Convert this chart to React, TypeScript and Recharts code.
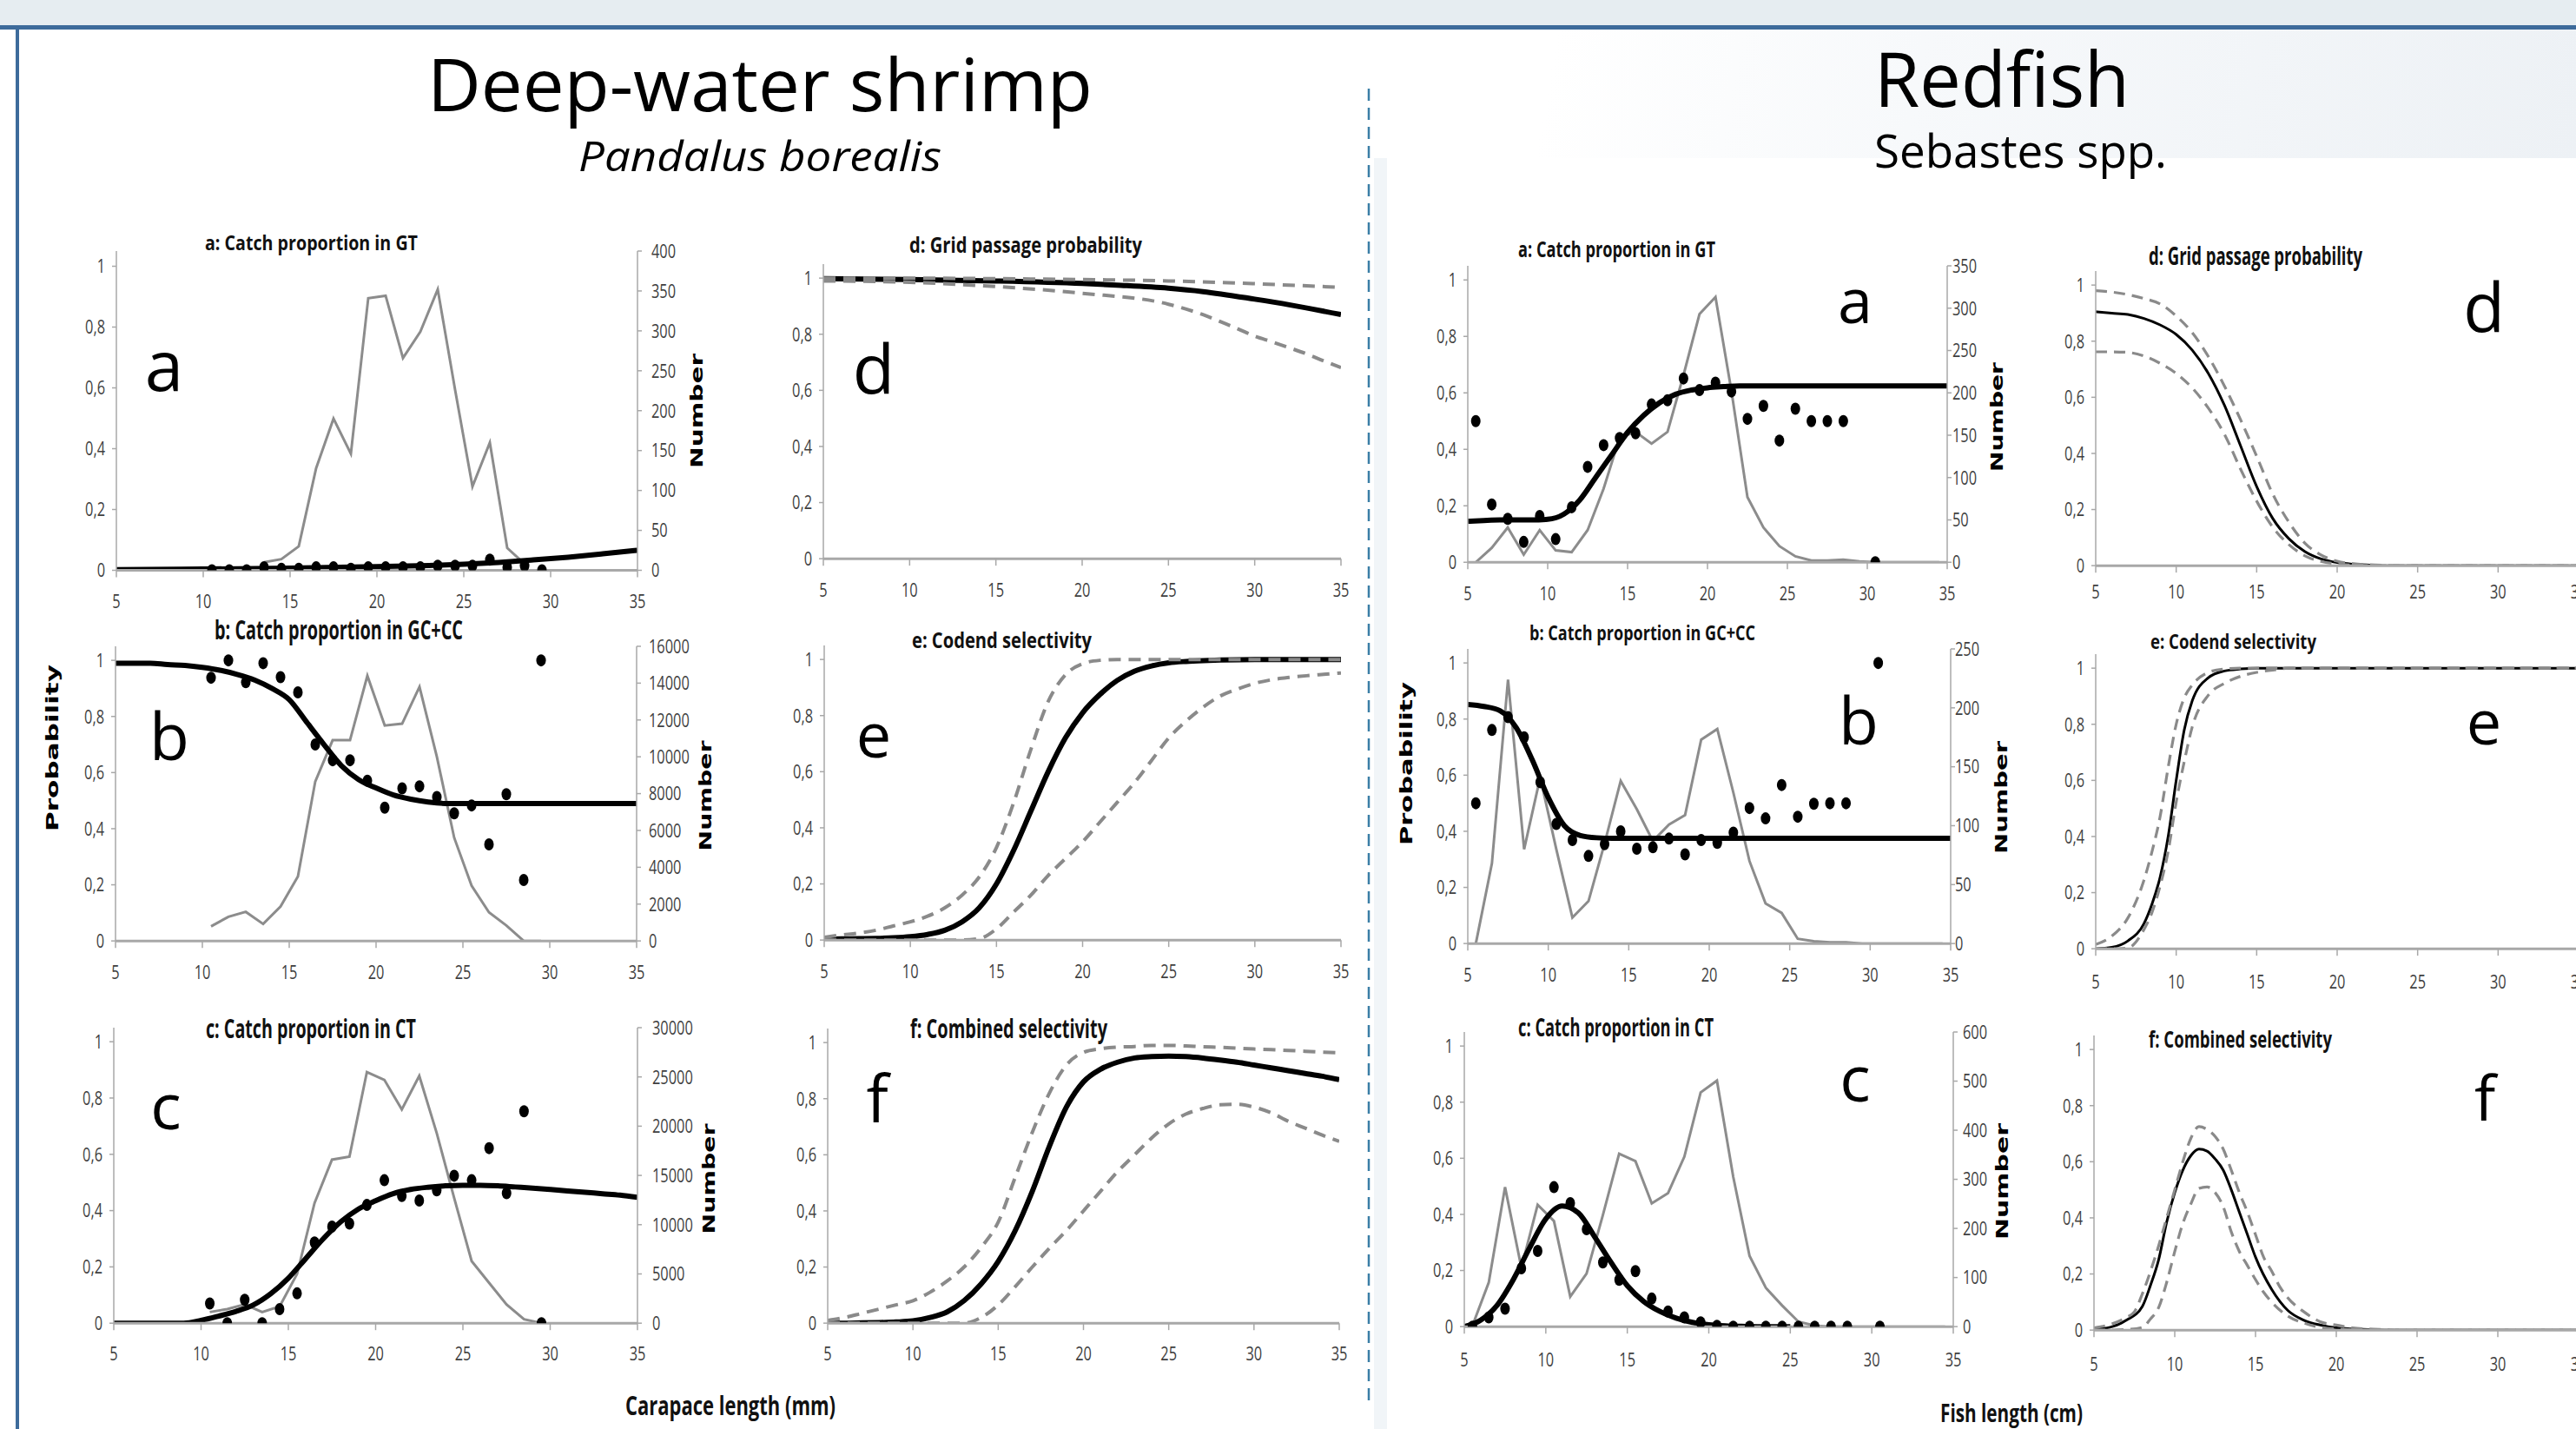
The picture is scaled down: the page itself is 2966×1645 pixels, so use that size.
import React from 'react';
import { ComposedChart, Line, XAxis, YAxis } from 'recharts';

type Pt = [number, number];

// shared axis ticks
const LENGTH_TICKS = [5, 10, 15, 20, 25, 30, 35];
const PROB_TICKS = [0, 0.2, 0.4, 0.6, 0.8, 1];

// ---------- Deep-water shrimp ----------
// a: catch proportion in GT
const SA_COUNT: Pt[] = [[13.5, 10], [14.5, 14], [15.5, 30], [16.5, 128], [17.5, 190], [18.5, 146], [19.5, 341], [20.5, 344], [21.5, 266], [22.5, 299], [23.5, 352], [24.5, 226], [25.5, 105], [26.5, 160], [27.5, 28], [28.5, 8]];
const SA_OBS: Pt[] = [[10.5, 0], [11.5, 0], [12.5, 0], [13.5, 0.01], [14.5, 0.005], [15.5, 0.005], [16.5, 0.01], [17.5, 0.01], [18.5, 0.005], [19.5, 0.01], [20.5, 0.01], [21.5, 0.01], [22.5, 0.01], [23.5, 0.015], [24.5, 0.015], [25.5, 0.015], [26.5, 0.035], [27.5, 0.01], [28.5, 0.015], [29.5, 0]];
const SA_FIT: Pt[] = [[5, 0.002], [10, 0.004], [15, 0.007], [20, 0.012], [23, 0.016], [25, 0.02], [27, 0.026], [29, 0.034], [31, 0.043], [33, 0.054], [35, 0.066]];
const SA_NUM_TICKS = [0, 50, 100, 150, 200, 250, 300, 350, 400];

// b: catch proportion in GC+CC
const SB_COUNT: Pt[] = [[10.5, 790], [11.5, 1310], [12.5, 1580], [13.5, 920], [14.5, 1870], [15.5, 3500], [16.5, 8660], [17.5, 10900], [18.5, 10900], [19.5, 14400], [20.5, 11700], [21.5, 11800], [22.5, 13800], [23.5, 10000], [24.5, 5600], [25.5, 3000], [26.5, 1550], [27.5, 840], [28.5, 0], [29.5, 0]];
const SB_OBS: Pt[] = [[10.5, 0.938], [11.5, 1.0], [12.5, 0.922], [13.5, 0.99], [14.5, 0.94], [15.5, 0.886], [16.5, 0.7], [17.5, 0.644], [18.5, 0.644], [19.5, 0.571], [20.5, 0.475], [21.5, 0.544], [22.5, 0.551], [23.5, 0.513], [24.5, 0.455], [25.5, 0.483], [26.5, 0.344], [27.5, 0.523], [28.5, 0.217], [29.5, 1.0]];
const SB_FIT: Pt[] = [[5, 0.99], [6, 0.99], [7, 0.99], [8, 0.985], [9, 0.982], [10, 0.975], [11, 0.965], [12, 0.95], [13, 0.93], [14, 0.9], [15, 0.86], [16, 0.78], [17, 0.7], [18, 0.625], [19, 0.575], [20, 0.545], [21, 0.52], [22, 0.505], [23, 0.495], [24, 0.49], [35, 0.49]];
const SB_NUM_TICKS = [0, 2000, 4000, 6000, 8000, 10000, 12000, 14000, 16000];

// c: catch proportion in CT
const SC_COUNT: Pt[] = [[10.5, 1130], [11.5, 1430], [12.5, 1900], [13.5, 1130], [14.5, 1700], [15.5, 5000], [16.5, 12200], [17.5, 16600], [18.5, 16900], [19.5, 25500], [20.5, 24700], [21.5, 21700], [22.5, 25100], [23.5, 19300], [24.5, 12700], [25.5, 6300], [26.5, 4100], [27.5, 1900], [28.5, 400], [29.5, 0]];
const SC_OBS: Pt[] = [[10.5, 0.07], [11.5, 0], [12.5, 0.083], [13.5, 0], [14.5, 0.05], [15.5, 0.106], [16.5, 0.287], [17.5, 0.343], [18.5, 0.354], [19.5, 0.42], [20.5, 0.508], [21.5, 0.452], [22.5, 0.436], [23.5, 0.472], [24.5, 0.524], [25.5, 0.508], [26.5, 0.622], [27.5, 0.462], [28.5, 0.753], [29.5, 0]];
const SC_FIT: Pt[] = [[5, 0], [9, 0], [10, 0.01], [11, 0.025], [12, 0.042], [13, 0.065], [14, 0.105], [15, 0.16], [16, 0.23], [17, 0.3], [18, 0.36], [19, 0.405], [20, 0.435], [21, 0.46], [22, 0.475], [23, 0.483], [24, 0.488], [25, 0.49], [26, 0.49], [27, 0.488], [28, 0.484], [29, 0.48], [30, 0.475], [31, 0.47], [32, 0.465], [33, 0.46], [34, 0.455], [35, 0.447]];
const SC_NUM_TICKS = [0, 5000, 10000, 15000, 20000, 25000, 30000];

// d: grid passage probability
const SD_FIT: Pt[] = [[5, 0.998], [10, 0.995], [15, 0.99], [20, 0.981], [22, 0.975], [25, 0.964], [27, 0.952], [30, 0.925], [32, 0.905], [35, 0.87]];
const SD_UP: Pt[] = [[5, 1.0], [10, 1.0], [15, 0.998], [20, 0.995], [25, 0.99], [30, 0.98], [35, 0.967]];
const SD_LO: Pt[] = [[5, 0.99], [10, 0.985], [15, 0.97], [20, 0.946], [25, 0.907], [26, 0.89], [27, 0.87], [28, 0.845], [29, 0.82], [30, 0.793], [31, 0.773], [32, 0.752], [33, 0.73], [34, 0.705], [35, 0.681]];

// e: codend selectivity
const SE_FIT: Pt[] = [[5, 0.003], [6, 0.004], [7, 0.005], [8, 0.006], [9, 0.008], [10, 0.012], [11, 0.02], [12, 0.035], [13, 0.065], [14, 0.115], [15, 0.2], [16, 0.32], [17, 0.46], [18, 0.6], [19, 0.72], [20, 0.81], [21, 0.875], [22, 0.925], [23, 0.958], [24, 0.977], [25, 0.988], [26, 0.993], [27, 0.996], [28, 0.998], [30, 1], [35, 1]];
const SE_UP: Pt[] = [[5, 0.01], [6, 0.018], [7, 0.025], [8, 0.035], [9, 0.05], [10, 0.065], [11, 0.085], [12, 0.115], [13, 0.16], [14, 0.225], [15, 0.33], [16, 0.49], [17, 0.68], [18, 0.85], [19, 0.945], [20, 0.985], [21, 0.997], [22, 1], [35, 1]];
const SE_LO: Pt[] = [[5, 0], [13, 0], [14, 0.005], [15, 0.04], [16, 0.1], [17, 0.16], [18, 0.23], [19, 0.29], [20, 0.35], [21, 0.42], [22, 0.49], [23, 0.56], [24, 0.64], [25, 0.72], [26, 0.78], [27, 0.83], [28, 0.87], [29, 0.895], [30, 0.915], [31, 0.928], [32, 0.936], [33, 0.942], [34, 0.947], [35, 0.952]];

// f: combined selectivity
const SF_FIT: Pt[] = [[5, 0], [6, 0], [7, 0.001], [8, 0.002], [9, 0.004], [10, 0.008], [11, 0.02], [12, 0.04], [13, 0.08], [14, 0.14], [15, 0.22], [16, 0.33], [17, 0.47], [18, 0.63], [19, 0.77], [20, 0.86], [21, 0.905], [22, 0.93], [23, 0.945], [24, 0.95], [25, 0.952], [26, 0.95], [27, 0.945], [28, 0.938], [29, 0.93], [30, 0.92], [31, 0.91], [32, 0.9], [33, 0.89], [34, 0.88], [35, 0.868]];
const SF_UP: Pt[] = [[5, 0.01], [6, 0.02], [7, 0.035], [8, 0.05], [9, 0.065], [10, 0.08], [11, 0.11], [12, 0.15], [13, 0.2], [14, 0.27], [15, 0.36], [16, 0.52], [17, 0.68], [18, 0.82], [19, 0.92], [20, 0.965], [21, 0.978], [22, 0.984], [23, 0.986], [24, 0.99], [25, 0.99], [26, 0.988], [27, 0.985], [28, 0.983], [29, 0.98], [30, 0.977], [31, 0.975], [32, 0.972], [33, 0.969], [34, 0.966], [35, 0.964]];
const SF_LO: Pt[] = [[5, 0], [13, 0], [14, 0.02], [15, 0.065], [16, 0.13], [17, 0.2], [18, 0.267], [19, 0.33], [20, 0.4], [21, 0.47], [22, 0.54], [23, 0.6], [24, 0.66], [25, 0.71], [26, 0.745], [27, 0.765], [28, 0.778], [29, 0.78], [30, 0.77], [31, 0.75], [32, 0.72], [33, 0.695], [34, 0.67], [35, 0.648]];

// ---------- Redfish ----------
const RA_COUNT: Pt[] = [[5.5, 0], [6.5, 17], [7.5, 41], [8.5, 9], [9.5, 38], [10.5, 14], [11.5, 12], [12.5, 38], [13.5, 87], [14.5, 147], [15.5, 154], [16.5, 140], [17.5, 154], [18.5, 221], [19.5, 293], [20.5, 313], [21.5, 202], [22.5, 77], [23.5, 41], [24.5, 19], [25.5, 7], [26.5, 2], [27.5, 2], [28.5, 3], [29.5, 1], [30.5, 0], [31.5, 0], [32.5, 0], [33.5, 0], [34.5, 0]];
const RA_OBS: Pt[] = [[5.5, 0.5], [6.5, 0.205], [7.5, 0.154], [8.5, 0.072], [9.5, 0.164], [10.5, 0.082], [11.5, 0.195], [12.5, 0.338], [13.5, 0.415], [14.5, 0.44], [15.5, 0.457], [16.5, 0.559], [17.5, 0.574], [18.5, 0.651], [19.5, 0.61], [20.5, 0.636], [21.5, 0.605], [22.5, 0.508], [23.5, 0.554], [24.5, 0.431], [25.5, 0.544], [26.5, 0.5], [27.5, 0.5], [28.5, 0.5], [30.5, 0]];
const RA_FIT: Pt[] = [[5, 0.145], [6, 0.148], [7, 0.15], [8, 0.15], [9, 0.15], [10, 0.152], [11, 0.17], [12, 0.22], [13, 0.3], [14, 0.38], [15, 0.46], [16, 0.52], [17, 0.565], [18, 0.595], [19, 0.61], [20, 0.618], [21, 0.622], [22, 0.625], [35, 0.625]];
const RA_NUM_TICKS = [0, 50, 100, 150, 200, 250, 300, 350];

const RB_COUNT: Pt[] = [[5.5, 0], [6.5, 68], [7.5, 224], [8.5, 80], [9.5, 141], [10.5, 80], [11.5, 22], [12.5, 36], [13.5, 85], [14.5, 138], [15.5, 114], [16.5, 87], [17.5, 101], [18.5, 109], [19.5, 173], [20.5, 182], [21.5, 128], [22.5, 70], [23.5, 34], [24.5, 26], [25.5, 4], [26.5, 2], [27.5, 1], [28.5, 1], [29.5, 0], [30.5, 0], [31.5, 0], [32.5, 0], [33.5, 0], [34.5, 0]];
const RB_OBS: Pt[] = [[5.5, 0.5], [6.5, 0.761], [7.5, 0.807], [8.5, 0.735], [9.5, 0.575], [10.5, 0.426], [11.5, 0.369], [12.5, 0.312], [13.5, 0.354], [14.5, 0.4], [15.5, 0.338], [16.5, 0.343], [17.5, 0.374], [18.5, 0.318], [19.5, 0.369], [20.5, 0.359], [21.5, 0.395], [22.5, 0.483], [23.5, 0.446], [24.5, 0.565], [25.5, 0.452], [26.5, 0.498], [27.5, 0.5], [28.5, 0.5], [30.5, 1.0]];
const RB_FIT: Pt[] = [[5, 0.852], [6, 0.845], [7, 0.83], [8, 0.77], [9, 0.655], [10, 0.52], [11, 0.42], [12, 0.385], [13, 0.377], [14, 0.375], [35, 0.375]];
const RB_NUM_TICKS = [0, 50, 100, 150, 200, 250];

const RC_COUNT: Pt[] = [[5.5, 2], [6.5, 90], [7.5, 284], [8.5, 120], [9.5, 248], [10.5, 215], [11.5, 61], [12.5, 108], [13.5, 227], [14.5, 352], [15.5, 337], [16.5, 251], [17.5, 272], [18.5, 346], [19.5, 477], [20.5, 501], [21.5, 305], [22.5, 144], [23.5, 79], [24.5, 43], [25.5, 10], [26.5, 2], [27.5, 0], [28.5, 0], [29.5, 0], [30.5, 0], [31.5, 0], [32.5, 0], [33.5, 0], [34.5, 0]];
const RC_OBS: Pt[] = [[5.5, 0], [6.5, 0.033], [7.5, 0.064], [8.5, 0.208], [9.5, 0.27], [10.5, 0.497], [11.5, 0.44], [12.5, 0.347], [13.5, 0.229], [14.5, 0.167], [15.5, 0.198], [16.5, 0.1], [17.5, 0.054], [18.5, 0.033], [19.5, 0.015], [20.5, 0.003], [21.5, 0], [22.5, 0], [23.5, 0], [24.5, 0], [25.5, 0], [26.5, 0], [27.5, 0], [28.5, 0], [30.5, 0]];
const RC_FIT: Pt[] = [[5, 0], [6, 0.023], [7, 0.075], [8, 0.167], [9, 0.28], [10, 0.384], [11, 0.43], [12, 0.405], [13, 0.32], [14, 0.229], [15, 0.146], [16, 0.09], [17, 0.054], [18, 0.03], [19, 0.015], [20, 0.007], [21, 0.003], [22, 0.001], [23, 0], [25, 0]];
const RC_NUM_TICKS = [0, 100, 200, 300, 400, 500, 600];

const RD_FIT: Pt[] = [[5, 0.905], [6, 0.9], [7, 0.895], [8, 0.881], [9, 0.858], [10, 0.824], [11, 0.768], [12, 0.685], [13, 0.571], [14, 0.427], [15, 0.282], [16, 0.168], [17, 0.096], [18, 0.05], [19, 0.024], [20, 0.011], [21, 0.005], [22, 0.002], [23, 0], [35, 0]];
const RD_UP: Pt[] = [[5, 0.98], [6, 0.975], [7, 0.966], [8, 0.952], [9, 0.933], [10, 0.89], [11, 0.83], [12, 0.745], [13, 0.64], [14, 0.52], [15, 0.39], [16, 0.255], [17, 0.155], [18, 0.08], [19, 0.038], [20, 0.016], [21, 0.007], [22, 0.003], [23, 0.001], [24, 0], [35, 0]];
const RD_LO: Pt[] = [[5, 0.762], [6, 0.762], [7, 0.76], [8, 0.747], [9, 0.721], [10, 0.685], [11, 0.633], [12, 0.561], [13, 0.468], [14, 0.344], [15, 0.23], [16, 0.137], [17, 0.075], [18, 0.035], [19, 0.015], [20, 0.006], [21, 0.002], [22, 0], [35, 0]];

const RE_FIT: Pt[] = [[5, 0], [6, 0.005], [7, 0.028], [8, 0.09], [8.5, 0.16], [9, 0.255], [9.5, 0.4], [10, 0.6], [10.5, 0.78], [11, 0.884], [12, 0.966], [13, 0.99], [14, 0.997], [15, 1], [35, 1]];
const RE_UP: Pt[] = [[5, 0.015], [6, 0.045], [7, 0.11], [8, 0.245], [8.5, 0.347], [9, 0.471], [9.5, 0.646], [10, 0.8], [10.5, 0.894], [11, 0.94], [12, 0.985], [13, 0.997], [14, 1], [35, 1]];
const RE_LO: Pt[] = [[5, 0], [6, 0], [7, 0.003], [8, 0.069], [8.5, 0.13], [9, 0.224], [9.5, 0.347], [10, 0.523], [10.5, 0.667], [11, 0.791], [12, 0.904], [13, 0.946], [14, 0.971], [15, 0.985], [16, 0.993], [17, 1], [35, 1]];

const RF_FIT: Pt[] = [[5, 0.003], [6, 0.01], [7, 0.035], [8, 0.085], [8.5, 0.16], [9, 0.25], [9.5, 0.385], [10, 0.49], [10.5, 0.57], [11, 0.622], [11.5, 0.645], [12, 0.638], [12.5, 0.61], [13, 0.57], [13.5, 0.5], [14, 0.42], [14.5, 0.34], [15, 0.26], [16, 0.145], [17, 0.07], [18, 0.035], [19, 0.018], [20, 0.008], [21, 0.004], [22, 0.002], [23, 0], [35, 0]];
const RF_UP: Pt[] = [[5, 0.008], [6, 0.02], [7, 0.045], [7.5, 0.065], [8, 0.13], [8.5, 0.21], [9, 0.3], [9.5, 0.4], [10, 0.5], [10.5, 0.6], [11, 0.684], [11.5, 0.725], [12, 0.715], [12.5, 0.69], [13, 0.645], [13.5, 0.57], [14, 0.49], [14.5, 0.42], [15, 0.34], [15.5, 0.26], [16, 0.21], [16.5, 0.155], [17, 0.115], [18, 0.065], [19, 0.03], [20, 0.018], [21, 0.008], [22, 0.004], [23, 0.002], [24, 0], [35, 0]];
const RF_LO: Pt[] = [[5, 0], [6, 0], [7, 0.002], [8, 0.01], [8.5, 0.04], [9, 0.08], [9.5, 0.17], [10, 0.28], [10.5, 0.38], [11, 0.45], [11.5, 0.505], [12, 0.51], [12.5, 0.49], [13, 0.44], [13.5, 0.35], [14, 0.28], [14.5, 0.23], [15, 0.18], [15.5, 0.135], [16, 0.1], [17, 0.05], [18, 0.025], [19, 0.01], [20, 0.004], [21, 0.001], [22, 0], [35, 0]];

// ---------- styling ----------
const AXIS_GREY = '#a8a8a8';
const LINE_GREY = '#8c8c8c';
const DASH_GREY = '#8a8a8a';
const TICK_TEXT = '#3f3f3f';
const Y_MAX = 1.05;
const LW = 80;
const RW = 110;
const PT = 20;
const PB = 60;

const toObj = (a: Pt[]) => a.map(([x, y]) => ({ x, y }));
const fmt = (v: number) => String(v).replace('.', ',');

interface PanelSpec {
  x5: number; x35: number; y0: number; y1: number;
  numMax?: number; numTicks?: number[]; numGap?: number;
  counts?: Pt[]; obs?: Pt[]; fit: Pt[]; upper?: Pt[]; lower?: Pt[];
  fitW: number; dashW?: number; dash?: string; xLabelDy?: number;
}

const XTick = (props: any) => {
  const { x, y, payload, dy } = props;
  return (
    <text transform={`translate(${x},${y + dy}) scale(0.78,1)`} textAnchor="middle" dominantBaseline="central"
      fontFamily="Open Sans" fontSize={21} fill={TICK_TEXT}>{payload.value}</text>
  );
};

const YTickLeft = (props: any) => {
  const { x, y, payload } = props;
  return (
    <text transform={`translate(${x - 8},${y}) scale(0.78,1)`} textAnchor="end" dominantBaseline="central"
      fontFamily="Open Sans" fontSize={21} fill={TICK_TEXT}>{fmt(payload.value)}</text>
  );
};

const YTickRight = (props: any) => {
  const { x, y, payload, gap } = props;
  return (
    <text transform={`translate(${x + gap - 5},${y}) scale(0.78,1)`} textAnchor="start" dominantBaseline="central"
      fontFamily="Open Sans" fontSize={21} fill={TICK_TEXT}>{payload.value}</text>
  );
};

const dotShape = (p: any) =>
  p.cx == null ? <g key={`e${p.index}`} /> : <ellipse key={`d${p.index}`} cx={p.cx} cy={p.cy} rx={5.5} ry={7} fill="#000" />;

function Panel({ s }: { s: PanelSpec }) {
  const plotW = s.x35 - s.x5;
  const plotH = (s.y0 - s.y1) * Y_MAX;
  const top = s.y0 - plotH;
  const hasNum = !!s.numMax;
  const dash = s.dash || '14 9';
  return (
    <div style={{ position: 'absolute', left: s.x5 - LW, top: top - PT }}>
      <ComposedChart width={LW + plotW + RW} height={PT + plotH + PB}
        margin={{ top: PT, right: hasNum ? 0 : RW, bottom: 0, left: 0 }}>
        <XAxis type="number" dataKey="x" domain={[5, 35]} ticks={LENGTH_TICKS} allowDataOverflow interval={0}
          height={PB} tickSize={8} tickMargin={0}
          axisLine={{ stroke: AXIS_GREY, strokeWidth: 3 }} tickLine={{ stroke: AXIS_GREY, strokeWidth: 1.5 }}
          tick={<XTick dy={s.xLabelDy ?? 28} />} />
        <YAxis yAxisId="p" domain={[0, Y_MAX]} ticks={PROB_TICKS} allowDataOverflow interval={0}
          width={LW} tickSize={5} tickMargin={0}
          axisLine={{ stroke: AXIS_GREY, strokeWidth: 1.5 }} tickLine={{ stroke: AXIS_GREY, strokeWidth: 1.5 }}
          tick={<YTickLeft />} />
        {hasNum && (
          <YAxis yAxisId="n" orientation="right" domain={[0, s.numMax as number]} ticks={s.numTicks} allowDataOverflow interval={0}
            width={RW} tickSize={5} tickMargin={0}
            axisLine={{ stroke: AXIS_GREY, strokeWidth: 1.5 }} tickLine={{ stroke: AXIS_GREY, strokeWidth: 1.5 }}
            tick={<YTickRight gap={s.numGap ?? 14} />} />
        )}
        {s.counts && (
          <Line yAxisId="n" data={toObj(s.counts)} dataKey="y" type="linear" stroke={LINE_GREY} strokeWidth={3}
            dot={false} activeDot={false} isAnimationActive={false} />
        )}
        <Line yAxisId="p" data={toObj(s.fit)} dataKey="y" type="monotone" stroke="#000" strokeWidth={s.fitW}
          dot={false} activeDot={false} isAnimationActive={false} />
        {s.upper && (
          <Line yAxisId="p" data={toObj(s.upper)} dataKey="y" type="monotone" stroke={DASH_GREY} strokeWidth={s.dashW ?? 4}
            strokeDasharray={dash} dot={false} activeDot={false} isAnimationActive={false} />
        )}
        {s.lower && (
          <Line yAxisId="p" data={toObj(s.lower)} dataKey="y" type="monotone" stroke={DASH_GREY} strokeWidth={s.dashW ?? 4}
            strokeDasharray={dash} dot={false} activeDot={false} isAnimationActive={false} />
        )}
        {s.obs && (
          <Line yAxisId="p" data={toObj(s.obs)} dataKey="y" stroke="none" dot={dotShape}
            activeDot={false} isAnimationActive={false} />
        )}
      </ComposedChart>
    </div>
  );
}

const PANELS: PanelSpec[] = [
  { x5: 134, x35: 734, y0: 656, y1: 306, numMax: 400, numTicks: SA_NUM_TICKS, numGap: 16, counts: SA_COUNT, obs: SA_OBS, fit: SA_FIT, fitW: 6 },
  { x5: 133, x35: 733, y0: 1083, y1: 760, numMax: 16000, numTicks: SB_NUM_TICKS, numGap: 14, counts: SB_COUNT, obs: SB_OBS, fit: SB_FIT, fitW: 6 },
  { x5: 131, x35: 734, y0: 1523, y1: 1199, numMax: 30000, numTicks: SC_NUM_TICKS, numGap: 17, counts: SC_COUNT, obs: SC_OBS, fit: SC_FIT, fitW: 6, xLabelDy: 27 },
  { x5: 948, x35: 1544, y0: 643, y1: 320, fit: SD_FIT, upper: SD_UP, lower: SD_LO, fitW: 6 },
  { x5: 949, x35: 1544, y0: 1082, y1: 759, fit: SE_FIT, upper: SE_UP, lower: SE_LO, fitW: 6 },
  { x5: 953, x35: 1542, y0: 1523, y1: 1200, fit: SF_FIT, upper: SF_UP, lower: SF_LO, fitW: 6, xLabelDy: 27 },
  { x5: 1690, x35: 2242, y0: 647, y1: 322, numMax: 350, numTicks: RA_NUM_TICKS, numGap: 6, counts: RA_COUNT, obs: RA_OBS, fit: RA_FIT, fitW: 6 },
  { x5: 1690, x35: 2246, y0: 1086, y1: 763, numMax: 250, numTicks: RB_NUM_TICKS, numGap: 5, counts: RB_COUNT, obs: RB_OBS, fit: RB_FIT, fitW: 6 },
  { x5: 1686, x35: 2249, y0: 1527, y1: 1204, numMax: 600, numTicks: RC_NUM_TICKS, numGap: 11, counts: RC_COUNT, obs: RC_OBS, fit: RC_FIT, fitW: 6, xLabelDy: 30 },
  { x5: 2413, x35: 2969, y0: 651, y1: 328, fit: RD_FIT, upper: RD_UP, lower: RD_LO, fitW: 3, dashW: 3.2, dash: '13 8', xLabelDy: 22 },
  { x5: 2413, x35: 2969, y0: 1092, y1: 769, fit: RE_FIT, upper: RE_UP, lower: RE_LO, fitW: 3, dashW: 3.2, dash: '13 8', xLabelDy: 30 },
  { x5: 2411, x35: 2969, y0: 1531, y1: 1208, fit: RF_FIT, upper: RF_UP, lower: RF_LO, fitW: 3, dashW: 3.2, dash: '13 8', xLabelDy: 31 },
];

// panel headings: text, left x, width, bottom (descender) y, font size
const HEADINGS: [string, number, number, number, number][] = [
  ['a: Catch proportion in GT', 236, 245, 294, 24],
  ['d: Grid passage probability', 1047, 268, 297, 25],
  ['a: Catch proportion in GT', 1748, 227, 302, 25],
  ['d: Grid passage probability', 2474, 246, 312, 28],
  ['b: Catch proportion in GC+CC', 247, 286, 743, 30],
  ['e: Codend selectivity', 1050, 207, 752, 25],
  ['b: Catch proportion in GC+CC', 1761, 260, 743, 24],
  ['e: Codend selectivity', 2476, 191, 753, 23],
  ['c: Catch proportion in CT', 237, 242, 1202, 30],
  ['f: Combined selectivity', 1048, 227, 1202, 30],
  ['c: Catch proportion in CT', 1748, 225, 1200, 28],
  ['f: Combined selectivity', 2474, 211, 1212, 27],
];

// big panel letters: letter, centre x, baseline y, font size
const LETTERS: [string, number, number, number][] = [
  ['a', 189, 450, 80], ['d', 1006, 453, 79], ['a', 2136, 372, 72], ['d', 2860, 382, 78],
  ['b', 195, 875, 75], ['e', 1006, 872, 72], ['b', 2140, 857, 75], ['e', 2860, 857, 72],
  ['c', 191, 1300, 74], ['f', 1010, 1292, 75], ['c', 2136, 1268, 74], ['f', 2861, 1290, 72],
];

// rotated axis titles: text, centre x, centre y, length
const AXIS_TITLES: [string, number, number, number][] = [
  ['Probability', 60, 861, 192], ['Probability', 1619, 879, 188],
  ['Number', 802, 473, 132], ['Number', 812, 916, 127], ['Number', 816, 1357, 127],
  ['Number', 2299, 480, 126], ['Number', 2304, 918, 130], ['Number', 2305, 1360, 134],
];

export default function App() {
  return (
    <div style={{ position: 'fixed', left: 0, top: 0, width: 2966, height: 1645, overflow: 'hidden', background: '#fff' }}>
      <div style={{ position: 'absolute', left: 0, top: 0, width: 2966, height: 30, background: '#e6edf1' }} />
      <div style={{ position: 'absolute', left: 1582, top: 34, width: 1384, height: 148, background: 'linear-gradient(100deg, #ffffff 0%, #ffffff 15%, #f7f9fb 45%, #edf1f5 100%)' }} />
      <div style={{ position: 'absolute', left: 1582, top: 182, width: 15, height: 1463, background: '#f1f5f8' }} />
      {PANELS.map((s, i) => <Panel key={i} s={s} />)}
      <div style={{ position: 'absolute', left: 0, top: 29, width: 2966, height: 5, background: '#3d6b9b' }} />
      <div style={{ position: 'absolute', left: 18, top: 30, width: 4, height: 1615, background: '#3d6b9b' }} />
      <svg width={2966} height={1645} style={{ position: 'absolute', left: 0, top: 0, pointerEvents: 'none' }}>
        <line x1={1576} y1={102} x2={1576} y2={1617} stroke="#3a7ea6" strokeWidth={2.5} strokeDasharray="14 8" />
        <text x={492} y={128} fontFamily="Open Sans" fontSize={85} textLength={766} lengthAdjust="spacingAndGlyphs" fill="#000">Deep-water shrimp</text>
        <text x={666} y={197} fontFamily="Open Sans" fontStyle="italic" fontSize={48} textLength={418} lengthAdjust="spacingAndGlyphs" fill="#000">Pandalus borealis</text>
        <text x={2158} y={123} fontFamily="Open Sans" fontSize={88} textLength={294} lengthAdjust="spacingAndGlyphs" fill="#000">Redfish</text>
        <text x={2158} y={193} fontFamily="Open Sans" fontSize={53} textLength={337} lengthAdjust="spacingAndGlyphs" fill="#000">Sebastes spp.</text>
        {HEADINGS.map(([t, x, w, b, fs], i) => (
          <text key={`h${i}`} x={x} y={b - 0.24 * fs} fontFamily="Open Sans" fontWeight={700} fontSize={fs}
            textLength={w} lengthAdjust="spacingAndGlyphs" fill="#111">{t}</text>
        ))}
        {LETTERS.map(([t, x, b, fs], i) => (
          <text key={`l${i}`} x={x} y={b} fontFamily="Open Sans" fontSize={fs} textAnchor="middle" fill="#000">{t}</text>
        ))}
        {AXIS_TITLES.map(([t, x, y, len], i) => (
          <text key={`a${i}`} transform={`translate(${x},${y}) rotate(-90)`} x={-len / 2} y={0} dominantBaseline="central"
            fontFamily="DejaVu Sans" fontWeight={700} fontSize={19} textLength={len} lengthAdjust="spacingAndGlyphs" fill="#000">{t}</text>
        ))}
        <text x={720} y={1629} fontFamily="Open Sans" fontWeight={700} fontSize={31} textLength={242} lengthAdjust="spacingAndGlyphs" fill="#111">Carapace length (mm)</text>
        <text x={2234} y={1637} fontFamily="Open Sans" fontWeight={700} fontSize={29} textLength={164} lengthAdjust="spacingAndGlyphs" fill="#111">Fish length (cm)</text>
      </svg>
    </div>
  );
}
